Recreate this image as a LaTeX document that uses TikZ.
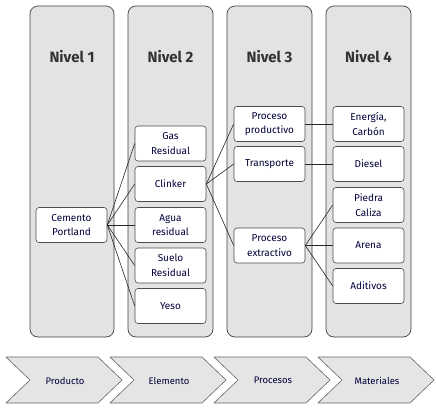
\documentclass[tikz,border=0pt]{standalone}
\usepackage{fontspec}
\setmainfont{Fira Sans}
\begin{document}
\begin{tikzpicture}[x=1pt,y=-1pt,
  colbox/.style={draw=black!75,fill=black!11,rounded corners=8pt,line width=0.7pt},
  title/.style={font=\fontsize{15}{18}\selectfont\bfseries,text=black!80},
  item/.style={draw=black!70,fill=white,rounded corners=3pt,line width=0.6pt,
    minimum width=71pt,minimum height=35pt,align=center,inner sep=1pt,
    font=\fontsize{10}{14.5}\selectfont,text=black!75!blue!90!black},
  link/.style={line width=0.6pt,black!85},
  chev/.style={draw=black!60,fill=black!10,line width=0.6pt},
  chevtext/.style={font=\fontsize{9.5}{11}\selectfont,text=black!75!blue!90!black}]
\useasboundingbox (0,0) rectangle (436,410);
% columns
\draw[colbox] (30,6) rectangle (114,337);
\draw[colbox] (128,6) rectangle (213,337);
\draw[colbox] (227,6) rectangle (312,337);
\draw[colbox] (326,6) rectangle (411,337);
\node[title] (t1) at (72,57) {Nivel 1};
\node[title] (t2) at (170.5,57) {Nivel 2};
\node[title] (t3) at (269.5,57) {Nivel 3};
\node[title] (t4) at (368.5,57) {Nivel 4};
% level 1
\node[item] (cem) at (71.5,225) {Cemento\\Portland};
% level 2
\node[item] (gas) at (170.5,143.5) {Gas\\Residual};
\node[item] (cli) at (170.5,184) {Clinker};
\node[item] (agu) at (170.5,225) {Agua\\residual};
\node[item] (sue) at (170.5,265.5) {Suelo\\Residual};
\node[item] (yes) at (170.5,306) {Yeso};
% level 3
\node[item] (pp) at (269.5,124) {Proceso\\productivo};
\node[item] (tra) at (269.5,164) {Transporte};
\node[item] (pe) at (269.5,245.5) {Proceso\\extractivo};
% level 4
\node[item] (ene) at (368.5,124) {Energía,\\Carbón};
\node[item] (die) at (368.5,164) {Diesel};
\node[item] (pie) at (368.5,205) {Piedra\\Caliza};
\node[item] (are) at (368.5,245.5) {Arena};
\node[item] (adi) at (368.5,286) {Aditivos};
% links
\foreach \t in {gas,cli,agu,sue,yes} \draw[link] (cem.east) -- (\t.west);
\foreach \t in {pp,tra,pe} \draw[link] (cli.east) -- (\t.west);
\draw[link] (pp.east) -- (ene.west);
\draw[link] (tra.east) -- (die.west);
\foreach \t in {pie,are,adi} \draw[link] (pe.east) -- (\t.west);
% chevrons
\foreach \L/\txt/\n in {6/Producto/c1,110/Elemento/c2,214/Procesos/c3,318/Materiales/c4}{
  \draw[chev] (\L,357) -- (\L+92,357) -- (\L+116,380) -- (\L+92,403) -- (\L,403) -- (\L+24,380) -- cycle;
  \node[chevtext] (\n) at (\L+59,380.5) {\txt};
}
\end{tikzpicture}
\end{document}
